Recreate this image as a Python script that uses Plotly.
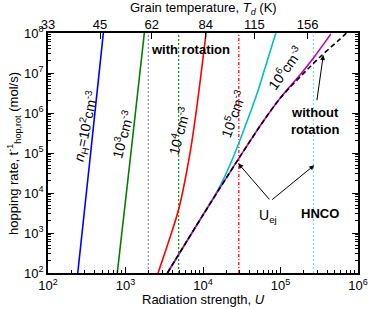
import plotly.graph_objects as go

# ---- data ----
u_n1e2 = [242, 355, 518]
r_n1e2 = [1e2, 1e5, 1e8]

u_n1e3 = [783, 1175, 1750]
r_n1e3 = [1e2, 1e5, 1e8]

u_n1e4 = [2630, 3550, 4900, 6790, 7890, 9330, 10960]
r_n1e4 = [1e2, 5.6e2, 4.2e3, 9.8e4, 6.6e5, 7.9e6, 1e8]

u_n1e5 = [3470, 10000, 15850, 23400, 36300, 50100, 66100, 87100]
r_n1e5 = [1e2, 2820, 1.26e4, 6.3e4, 5.6e5, 3.16e6, 1.78e7, 1e8]

u_n1e6 = [3470, 10000, 31600, 60300, 100000, 178000, 263000, 447000]
r_n1e6 = [1e2, 2820, 9.5e4, 6.3e5, 2.4e6, 8.9e6, 2.3e7, 9.5e7]

u_norot = [3470, 10000, 31600, 60300, 100000, 178000, 316000, 676000, 708000]
r_norot = [1e2, 2820, 9.5e4, 6.3e5, 2.4e6, 7.9e6, 2.4e7, 9.1e7, 1e8]

u_ej = [1970, 4850, 29000, 266000]

temp_ticks_u = [100, 469, 2180, 10840, 45900, 224000]
temp_ticks_lbl = ["33", "45", "62", "84", "115", "156"]

x_tickvals = [1e2, 1e3, 1e4, 1e5, 1e6]
x_ticktext = ["10<sup>2</sup>", "10<sup>3</sup>", "10<sup>4</sup>", "10<sup>5</sup>", "10<sup>6</sup>"]
y_tickvals = [1e2, 1e3, 1e4, 1e5, 1e6, 1e7, 1e8]
y_ticktext = ["10<sup>2</sup>", "10<sup>3</sup>", "10<sup>4</sup>", "10<sup>5</sup>",
              "10<sup>6</sup>", "10<sup>7</sup>", "10<sup>8</sup>"]

FONT = "Arial"
fig = go.Figure()

ej_colors = ["#7f7fff", "#00a000", "#ff0000", "#7fdfdf"]
ej_dash = ["2px,2px", "2px,2px", "3px,2px,1px,2px", "2px,2px"]
for v, c, d in zip(u_ej, ej_colors, ej_dash):
    fig.add_trace(go.Scatter(x=[v, v], y=[1e2, 1e8], mode="lines",
                             line=dict(color=c, width=1.2, dash=d), showlegend=False))

curves = [
    (u_n1e2, r_n1e2, "#0000ff", "solid"),
    (u_n1e3, r_n1e3, "#007f00", "solid"),
    (u_n1e4, r_n1e4, "#ff0000", "solid"),
    (u_n1e5, r_n1e5, "#00bfbf", "solid"),
    (u_n1e6, r_n1e6, "#bf00bf", "solid"),
]
for u, r, c, d in curves:
    fig.add_trace(go.Scatter(x=u, y=r, mode="lines", line=dict(color=c, width=1.6, dash=d, shape="spline"),
                             showlegend=False))
fig.add_trace(go.Scatter(x=u_norot, y=r_norot, mode="lines",
                         line=dict(color="black", width=1.6, dash="5px,3px", shape="spline"), showlegend=False))

# top axis dummy trace
fig.add_trace(go.Scatter(x=[1e2, 1e6], y=[1e2, 1e2], xaxis="x2", mode="lines",
                         line=dict(width=0), showlegend=False, hoverinfo="skip"))

# plot area in screenshot pixels: x 48..358, y 33..272.7
def P(px, py):
    return (px - 48) / 310.0, (272.7 - py) / 239.7

anns = []
def txt(px, py, text, size=13, bold=False, angle=0):
    x, y = P(px, py)
    if bold:
        text = "<b>" + text + "</b>"
    anns.append(dict(x=x, y=y, xref="paper", yref="paper", text=text, showarrow=False,
                     textangle=angle, font=dict(family=FONT, size=size, color="black"),
                     xanchor="center", yanchor="middle"))

def arrow(hx, hy, tx, ty):
    x, y = P(hx, hy)
    anns.append(dict(x=x, y=y, xref="paper", yref="paper", text="", showarrow=True,
                     ax=tx - hx, ay=ty - hy, arrowhead=2, arrowsize=1, arrowwidth=1,
                     arrowcolor="black"))

txt(190, 49, "with rotation", 13, True)
txt(315, 121, "without<br>rotation", 13, True)
txt(320, 213, "HNCO", 13, True)
txt(268, 216, "U<sub>ej</sub>", 14)
txt(86, 126, "<i>n</i><sub>H</sub>=10<sup>2</sup>cm<sup>-3</sup>", 14, angle=-78)
txt(122.5, 134, "10<sup>3</sup>cm<sup>-3</sup>", 14, angle=-75)
txt(179, 131, "10<sup>4</sup>cm<sup>-3</sup>", 14, angle=-75)
txt(233, 114, "10<sup>5</sup>cm<sup>-3</sup>", 14, angle=-70)
txt(285, 68, "10<sup>6</sup>cm<sup>-3</sup>", 14, angle=-54)
arrow(238.3, 163.3, 270.7, 200.7)
arrow(314.3, 165, 270.7, 200.7)
arrow(323.3, 55, 316.7, 101.7)

# axis titles as annotations
anns.append(dict(x=0.5, y=-0.072, xref="paper", yref="paper", showarrow=False,
                 text="Radiation strength, <i>U</i>", font=dict(family=FONT, size=13, color="black"),
                 xanchor="center", yanchor="top"))
tx, ty = P(203, 9)
anns.append(dict(x=tx, y=ty, xref="paper", yref="paper", showarrow=False,
                 text="Grain temperature, <i>T<sub>d</sub></i> (K)", font=dict(family=FONT, size=13, color="black"),
                 xanchor="center", yanchor="middle"))
anns.append(dict(x=-0.11, y=0.5, xref="paper", yref="paper", showarrow=False, textangle=-90,
                 text="hopping rate, t<sup>-1</sup><sub>hop,rot</sub> (mol/s)",
                 font=dict(family=FONT, size=13, color="black"),
                 xanchor="center", yanchor="middle"))

axis_common = dict(type="log", showgrid=False, zeroline=False, automargin=False,
                   tickfont=dict(family=FONT, size=13, color="black"))

fig.update_layout(
    width=373, height=309, margin=dict(l=48, r=15, t=33, b=36.3),
    plot_bgcolor="white", paper_bgcolor="white", showlegend=False,
    font=dict(family=FONT, size=13, color="black"),
    annotations=anns,
    xaxis=dict(**axis_common, range=[2, 6], mirror=True, showline=True, linecolor="black", linewidth=1.5,
               ticks="inside", tickcolor="black",
               tickvals=x_tickvals, ticktext=x_ticktext, ticklen=6, tickwidth=1,
               minor=dict(ticks="inside", ticklen=3, tickcolor="black", showgrid=False, dtick="D1")),
    yaxis=dict(**axis_common, range=[2, 8], mirror="ticks", showline=True, linecolor="black", linewidth=1.5,
               ticks="inside", tickcolor="black",
               tickvals=y_tickvals, ticktext=y_ticktext, ticklen=6, tickwidth=1,
               minor=dict(ticks="inside", ticklen=3, tickcolor="black", showgrid=False, dtick="D1")),
    xaxis2=dict(**axis_common, range=[2, 6], overlaying="x", side="top",
                showline=False, ticks="inside", ticklen=6, tickcolor="black", tickwidth=1,
                tickvals=temp_ticks_u, ticktext=temp_ticks_lbl),
)

fig.write_html("out.html", config={"displayModeBar": False},
               post_script="document.body.style.margin='0px';document.body.style.padding='0px';")
